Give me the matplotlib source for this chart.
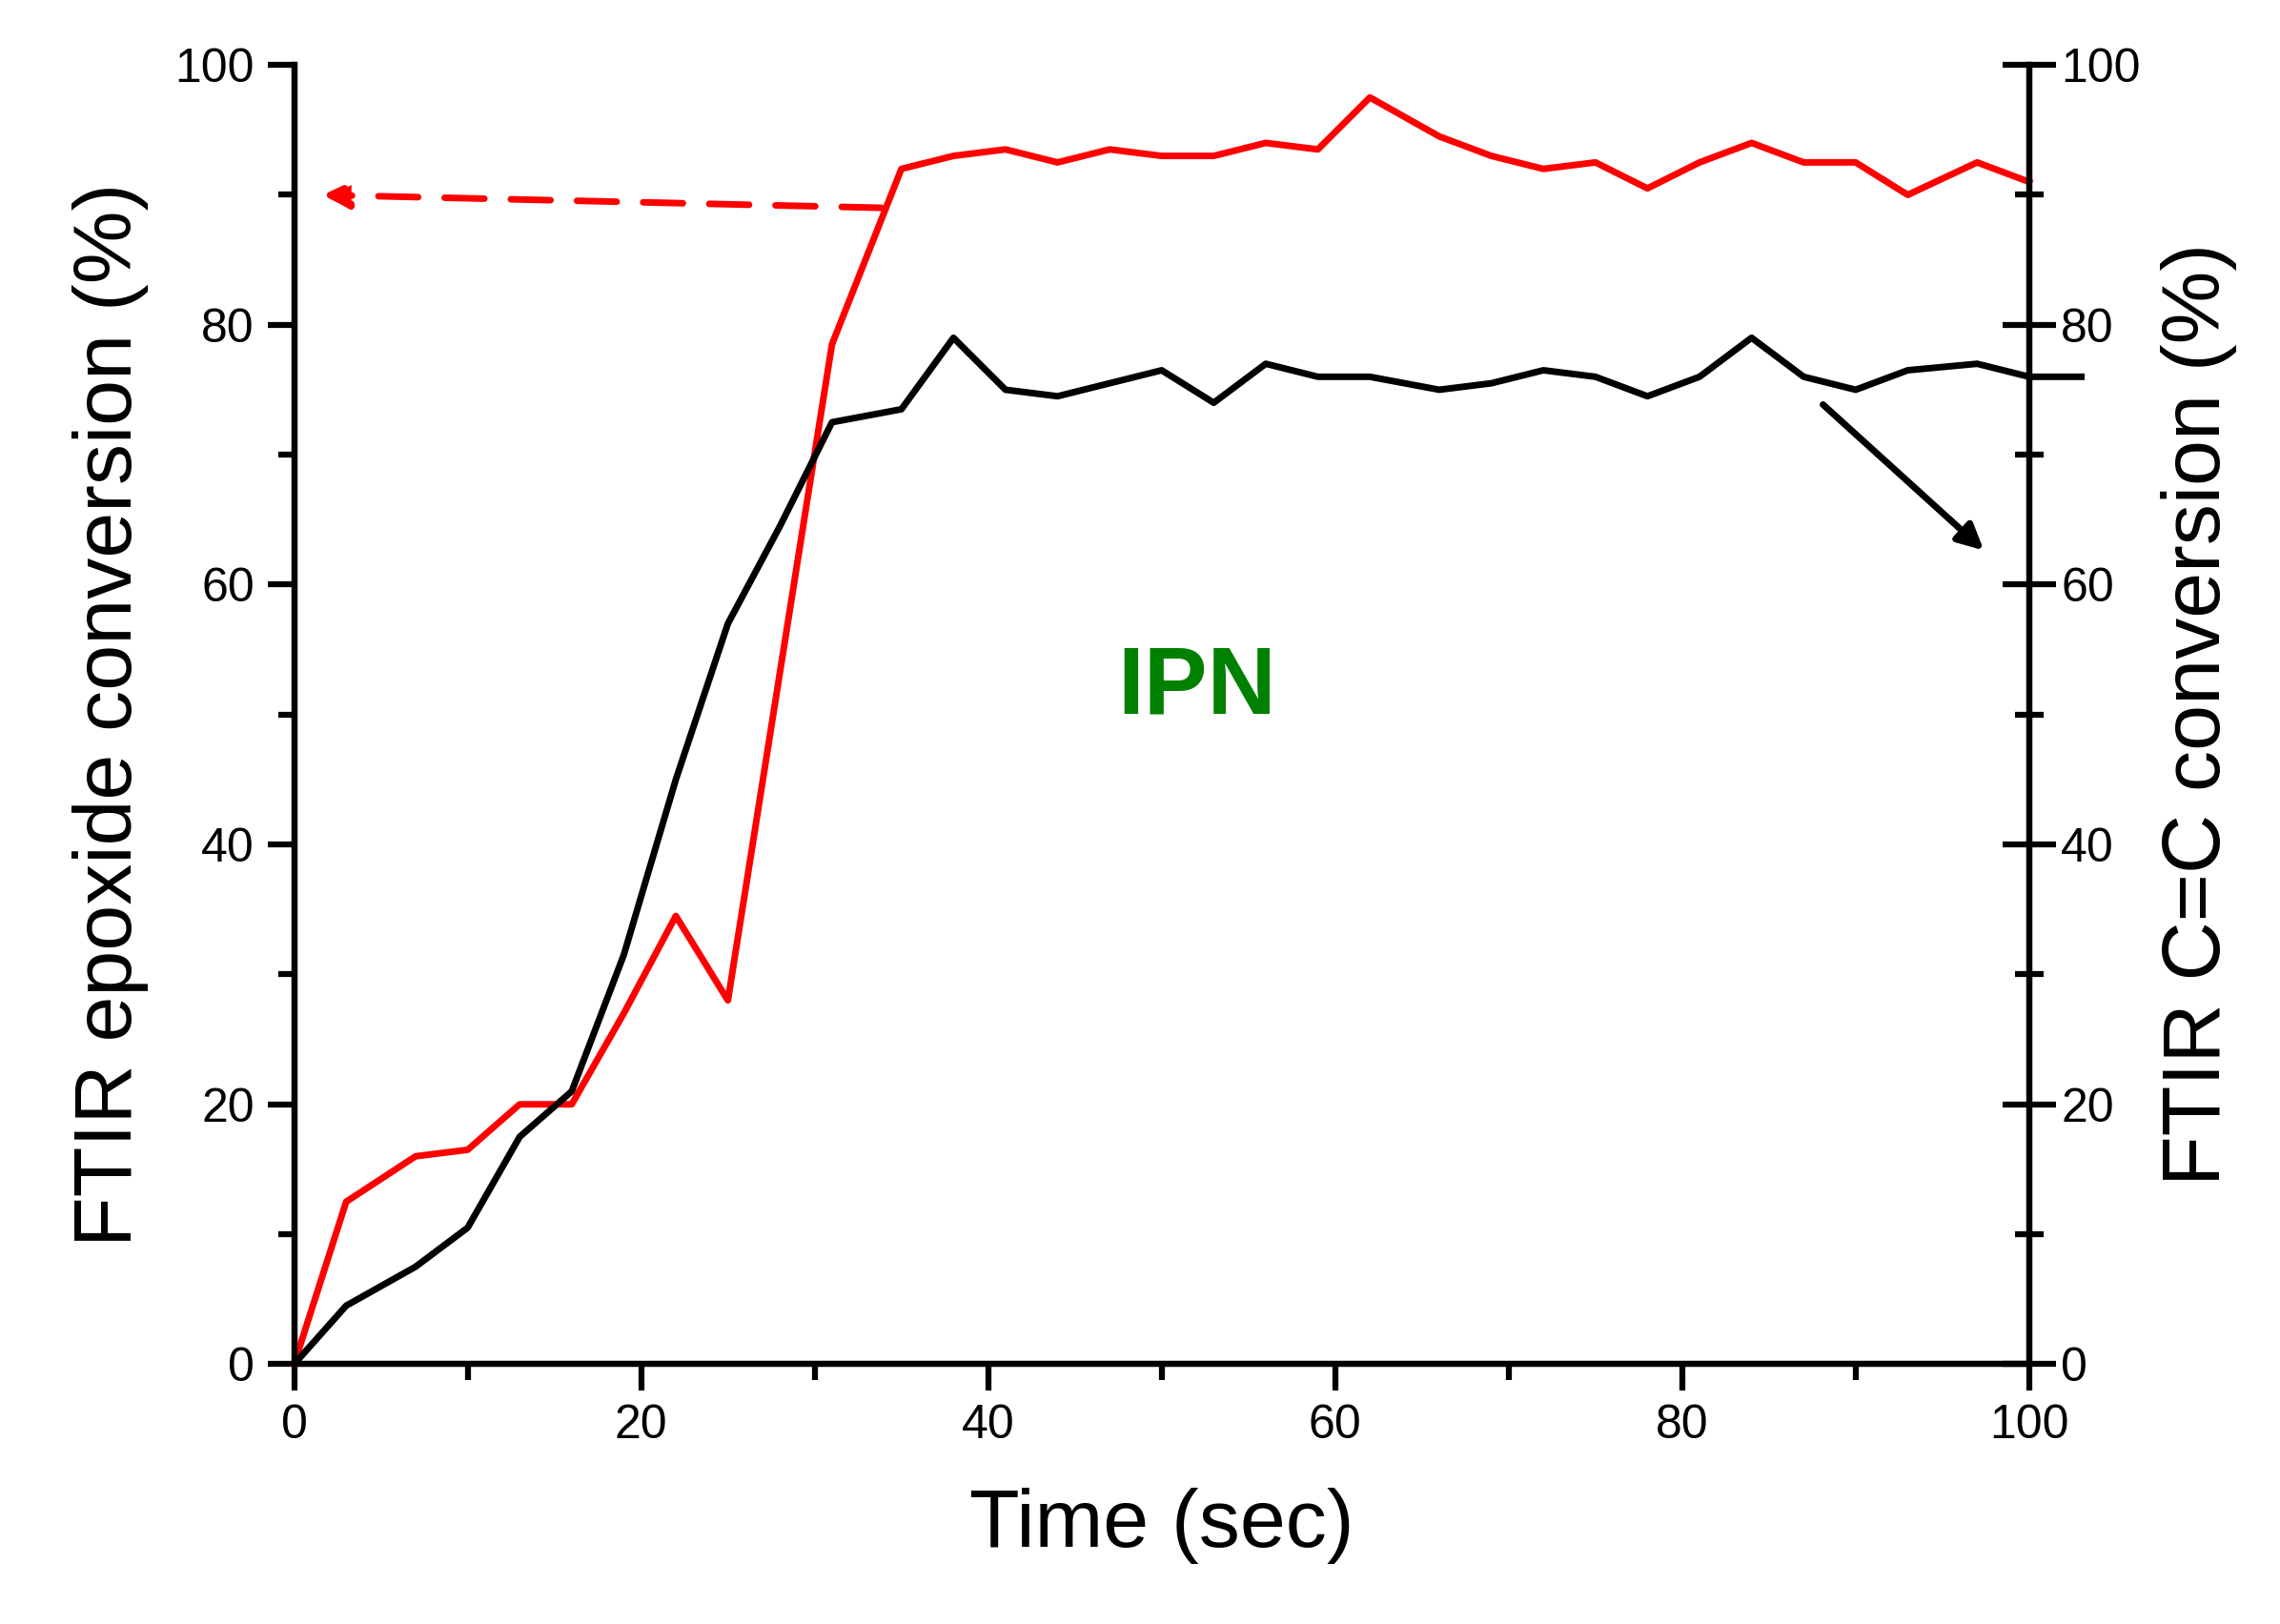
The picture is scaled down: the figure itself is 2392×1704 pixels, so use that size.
import matplotlib.pyplot as plt
from matplotlib.ticker import MultipleLocator

plt.rcParams['font.family'] = ['Liberation Sans', 'DejaVu Sans']

# epoxide conversion (red, left axis)
t_red = [0, 3, 7, 10, 13, 16, 19, 22, 25, 31, 35, 38, 41, 44, 47, 50, 53, 56, 59, 62,
         66, 69, 72, 75, 78, 81, 84, 87, 90, 93, 97, 100]
epoxide = [0, 12.5, 16, 16.5, 20, 20, 27, 34.5, 28, 78.5, 92, 93, 93.5, 92.5, 93.5, 93, 93,
           94, 93.5, 97.5, 94.5, 93, 92, 92.5, 90.5, 92.5, 94, 92.5, 92.5, 90, 92.5, 91]
# C=C conversion (black, right axis)
t_blk = [0, 3, 7, 10, 13, 16, 19, 22, 25, 28, 31, 35, 38, 41, 44, 47, 50, 53, 56, 59, 62,
         66, 69, 72, 75, 78, 81, 84, 87, 90, 93, 97, 100, 103]
cc = [0, 4.5, 7.5, 10.5, 17.5, 21, 31.5, 45, 57, 64.5, 72.5, 73.5, 79, 75, 74.5, 75.5, 76.5,
      74, 77, 76, 76, 75, 75.5, 76.5, 76, 74.5, 76, 79, 76, 75, 76.5, 77, 76, 76]

fig = plt.figure(figsize=(23.92, 17.04), dpi=100)
ax1 = fig.add_axes([0.129, 0.160, 0.761, 0.800])
ax2 = ax1.twinx()

ax1.plot(t_red, epoxide, color='red', lw=5, clip_on=False, zorder=3)
ax2.plot(t_blk, cc, color='black', lw=5, clip_on=False, zorder=3)

for ax in (ax1, ax2):
    ax.set_xlim(0, 100)
    ax.set_ylim(0, 100)
    ax.yaxis.set_major_locator(MultipleLocator(20))
    ax.yaxis.set_minor_locator(MultipleLocator(10))
    ax.spines['top'].set_visible(False)
    for sp in ax.spines.values():
        sp.set_linewidth(4.5)
ax1.xaxis.set_major_locator(MultipleLocator(20))
ax1.xaxis.set_minor_locator(MultipleLocator(10))

ax1.tick_params(axis='both', which='major', direction='out', length=20, width=4.5, labelsize=36, pad=10)
ax1.tick_params(axis='both', which='minor', direction='out', length=12, width=4.5)
ax2.tick_params(axis='y', which='major', direction='inout', length=40, width=4.5, labelsize=36, pad=4)
ax2.tick_params(axis='y', which='minor', direction='inout', length=22, width=4.5)

ax1.set_xlabel('Time (sec)', fontsize=62, labelpad=30)
ax1.set_ylabel('FTIR epoxide conversion (%)', fontsize=62, labelpad=20)
ax2.set_ylabel('FTIR C=C conversion (%)', fontsize=62, labelpad=15)

ax1.annotate('', xy=(1.5, 90), xytext=(34, 89),
             arrowprops=dict(arrowstyle='-|>', color='red', lw=5, linestyle=(0, (6, 4)),
                             mutation_scale=40))
ax2.annotate('', xy=(97.5, 62.5), xytext=(88, 74),
             arrowprops=dict(arrowstyle='-|>', color='black', lw=5, mutation_scale=40))

ax1.text(52, 52, 'IPN', color='#008000', fontsize=72, fontweight='bold', ha='center', va='center')

fig.savefig('out.png', dpi=100)
